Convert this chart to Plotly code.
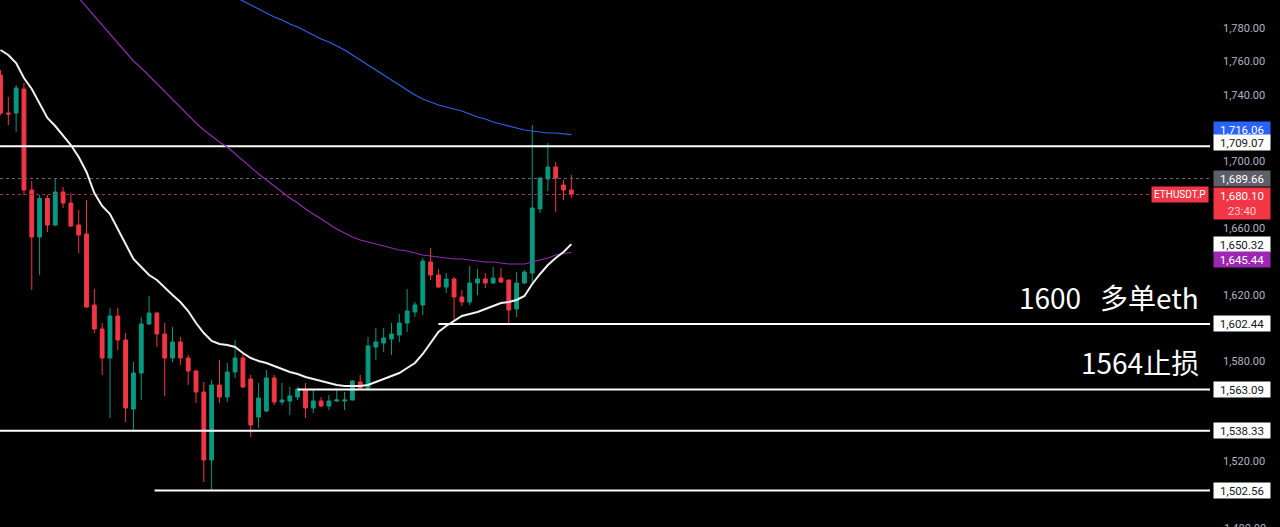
import plotly.graph_objects as go

# ---- data ----
bars = list(range(74))
opens = [1751.8, 1729.0, 1729.0, 1743.4, 1682.8, 1654.6, 1677.8, 1661.8, 1681.6, 1675.0,
         1661.8, 1656.4, 1613.8, 1599.4, 1582.0, 1607.2, 1592.8, 1551.4, 1573.0, 1602.4,
         1609.0, 1596.4, 1582.0, 1591.6, 1582.0, 1574.2, 1561.6, 1520.8, 1565.8, 1558.6,
         1573.6, 1582.0, 1569.4, 1546.6, 1550.2, 1570.0, 1555.6, 1556.2, 1558.6, 1562.8,
         1552.0, 1556.2, 1553.2, 1556.2, 1556.2, 1556.8, 1567.6, 1564.0, 1588.6, 1591.0,
         1593.4, 1595.8, 1603.0, 1609.6, 1613.8, 1639.6, 1631.8, 1624.6, 1629.4, 1618.6,
         1615.6, 1627.0, 1629.4, 1627.0, 1630.0, 1628.8, 1611.4, 1627.0, 1633.0, 1671.4,
         1689.4, 1696.6, 1685.8, 1682.8]
highs = [1754.8, 1738.6, 1745.8, 1747.0, 1688.2, 1679.8, 1679.8, 1689.4, 1684.6, 1681.0,
         1670.8, 1676.8, 1623.4, 1603.0, 1612.0, 1612.0, 1597.0, 1579.6, 1606.6, 1619.2,
         1609.4, 1603.0, 1600.6, 1594.6, 1583.8, 1574.8, 1567.6, 1568.8, 1580.8, 1579.0,
         1592.8, 1585.6, 1571.8, 1567.0, 1574.8, 1571.8, 1567.0, 1564.6, 1564.6, 1567.0,
         1562.8, 1558.6, 1559.8, 1564.0, 1561.6, 1568.8, 1571.8, 1594.6, 1600.0, 1600.0,
         1603.0, 1608.4, 1623.4, 1615.6, 1642.0, 1648.0, 1635.4, 1633.0, 1630.6, 1622.8,
         1637.2, 1635.4, 1633.0, 1636.6, 1636.0, 1628.8, 1633.6, 1634.8, 1721.8, 1690.6,
         1711.0, 1699.6, 1688.8, 1691.8]
lows = [1727.8, 1721.8, 1717.6, 1679.8, 1622.8, 1631.8, 1657.6, 1661.0, 1672.0, 1660.6,
        1645.0, 1612.0, 1597.0, 1571.8, 1546.0, 1586.8, 1543.6, 1537.6, 1556.8, 1602.0,
        1588.6, 1559.2, 1579.6, 1577.8, 1565.8, 1555.0, 1507.6, 1502.6, 1555.0, 1555.6,
        1570.0, 1564.0, 1534.6, 1540.0, 1549.6, 1553.8, 1553.8, 1547.8, 1556.8, 1546.0,
        1549.0, 1552.6, 1550.8, 1555.6, 1550.8, 1556.6, 1562.8, 1563.4, 1580.8, 1585.6,
        1583.8, 1591.6, 1597.6, 1606.6, 1607.8, 1628.8, 1624.0, 1621.0, 1604.8, 1613.2,
        1613.8, 1619.8, 1624.0, 1626.6, 1627.0, 1602.4, 1606.6, 1626.4, 1627.6, 1669.0,
        1682.2, 1669.6, 1676.8, 1678.0]
closes = [1729.0, 1728.4, 1744.0, 1682.8, 1654.6, 1677.8, 1661.8, 1681.6, 1675.0, 1661.2,
          1655.8, 1612.6, 1599.4, 1582.0, 1607.2, 1592.8, 1552.0, 1573.0, 1602.4, 1609.0,
          1596.4, 1582.0, 1591.6, 1582.0, 1574.2, 1561.6, 1520.8, 1565.8, 1558.6, 1573.6,
          1582.0, 1564.6, 1541.8, 1558.0, 1570.0, 1555.6, 1556.8, 1559.2, 1563.4, 1552.0,
          1556.2, 1553.2, 1556.2, 1556.8, 1556.8, 1568.2, 1564.0, 1589.2, 1591.6, 1594.0,
          1596.4, 1603.0, 1610.2, 1613.8, 1640.2, 1631.8, 1624.6, 1629.4, 1618.6, 1615.6,
          1627.0, 1629.4, 1627.0, 1630.0, 1627.6, 1610.8, 1627.0, 1633.6, 1672.0, 1690.0,
          1696.6, 1690.0, 1682.8, 1680.1]

ma_white = [1766.8, 1763.8, 1759.0, 1750.0, 1743.4, 1734.4, 1726.0, 1721.2, 1715.8, 1709.8,
            1702.6, 1693.6, 1681.0, 1673.2, 1668.4, 1659.4, 1649.8, 1641.4, 1636.6, 1631.8,
            1628.8, 1624.0, 1619.8, 1615.6, 1610.2, 1603.0, 1597.0, 1592.2, 1590.4, 1589.8,
            1588.6, 1585.0, 1582.0, 1580.2, 1579.0, 1577.2, 1575.4, 1573.6, 1572.4, 1570.6,
            1569.4, 1568.2, 1567.0, 1565.8, 1565.2, 1565.2, 1565.2, 1565.8, 1567.6, 1569.4,
            1571.2, 1573.0, 1576.0, 1579.0, 1584.4, 1591.0, 1597.6, 1601.2, 1604.2, 1607.2,
            1608.4, 1609.6, 1611.4, 1613.2, 1615.0, 1615.6, 1616.8, 1619.2, 1626.4, 1632.4,
            1637.8, 1642.0, 1645.6, 1650.32]
ma_purple = [1853.8, 1848.4, 1843.0, 1837.0, 1831.6, 1825.6, 1819.6, 1814.2, 1808.8, 1802.8,
             1797.4, 1792.6, 1787.2, 1781.8, 1776.4, 1771.0, 1765.6, 1760.2, 1756.0, 1751.2,
             1747.0, 1742.2, 1737.4, 1732.6, 1727.8, 1723.0, 1718.8, 1715.2, 1711.6, 1708.6,
             1704.4, 1700.2, 1696.0, 1692.4, 1688.8, 1685.2, 1681.6, 1678.0, 1675.0, 1671.4,
             1668.4, 1665.4, 1662.4, 1659.4, 1657.0, 1654.6, 1652.8, 1651.6, 1650.4, 1649.2,
             1648.0, 1646.8, 1646.2, 1645.0, 1643.8, 1643.2, 1642.6, 1642.0, 1641.4, 1641.4,
             1640.8, 1640.2, 1639.6, 1639.6, 1639.0, 1638.4, 1638.4, 1638.4, 1639.6, 1640.8,
             1642.0, 1643.8, 1644.4, 1645.44]
ma_blue = [None] * 28 + [
             1804.0, 1801.0, 1798.6, 1796.2, 1793.8, 1791.4, 1789.0, 1786.6, 1784.8, 1782.4,
             1780.6, 1778.2, 1775.8, 1773.4, 1771.6, 1769.2, 1766.8, 1763.8, 1760.8, 1757.8,
             1754.8, 1751.8, 1748.8, 1745.8, 1742.8, 1739.8, 1737.4, 1735.6, 1733.8, 1732.6,
             1731.4, 1730.2, 1728.4, 1726.6, 1725.4, 1723.6, 1722.4, 1721.2, 1720.0, 1718.8,
             1718.2, 1717.6, 1717.0, 1717.0, 1716.4, 1716.06]

level_prices = [1709.07, 1602.44, 1563.09, 1538.33, 1502.56]
level_starts = [-0.06, 56, 38, -0.06, 19.7]

last_price = 1680.10
mark_price = 1689.66

tick_vals = [1500, 1520, 1540, 1560, 1580, 1600, 1620, 1640, 1660, 1680, 1700, 1720, 1740, 1760, 1780]
tick_text = ["", "1,520.00", "", "", "1,580.00", "", "1,620.00", "", "1,660.00", "",
             "1,700.00", "", "1,740.00", "1,760.00", "1,780.00"]

note_texts = ["1600\u00a0\u00a0\u00a0多单eth", "1564止损"]
note_prices = [1618.5, 1579.5]

X_MIN, X_MAX = -0.064, 154.67
Y_MIN, Y_MAX = 1480.6, 1796.8

GREEN = "#089981"
RED = "#f23645"

fig = go.Figure()

# level lines
for p, s in zip(level_prices, level_starts):
    fig.add_trace(go.Scatter(x=[s, X_MAX], y=[p, p], mode="lines",
                             line=dict(color="#ffffff", width=2), hoverinfo="skip", showlegend=False))

# dotted price lines
fig.add_trace(go.Scatter(x=[X_MIN, X_MAX], y=[mark_price, mark_price], mode="lines",
                         line=dict(color="#6a6d78", width=1, dash="dot"), showlegend=False))
fig.add_trace(go.Scatter(x=[X_MIN, X_MAX], y=[last_price, last_price], mode="lines",
                         line=dict(color="#a8323d", width=1, dash="dot"), showlegend=False))

# moving averages
fig.add_trace(go.Scatter(x=bars, y=ma_blue, mode="lines",
                         line=dict(color="#2f62e8", width=1.2), showlegend=False))
fig.add_trace(go.Scatter(x=bars, y=ma_purple, mode="lines",
                         line=dict(color="#8e2fb0", width=1.2), showlegend=False))

fig.add_trace(go.Candlestick(
    x=bars, open=opens, high=highs, low=lows, close=closes,
    increasing=dict(line=dict(color=GREEN, width=1), fillcolor=GREEN),
    decreasing=dict(line=dict(color=RED, width=1), fillcolor=RED),
    whiskerwidth=0, showlegend=False))

fig.add_trace(go.Scatter(x=bars, y=ma_white, mode="lines",
                         line=dict(color="#f2f2f2", width=2), showlegend=False))

# price tags on the axis (value, background, text colour, vertical nudge in px)
tags = [
    (ma_blue[-1], "#2962ff", "#ffffff", 5),
    (level_prices[0], "#ffffff", "#131722", 4),
    (mark_price, "#5d606b", "#ffffff", 0),
    (ma_white[-1], "#ffffff", "#131722", 0),
    (ma_purple[-1], "#9c27b0", "#ffffff", -7),
]
for p in level_prices[1:]:
    tags.append((p, "#ffffff", "#131722", 0))

annotations = []
for p, bg, fg, dy in tags:
    annotations.append(dict(xref="paper", yref="y", x=1, y=p, xanchor="left", yanchor="middle",
                            xshift=3, yshift=dy, text="{:,.2f}".format(p), showarrow=False,
                            bgcolor=bg, width=54, height=13, align="center", borderpad=1,
                            font=dict(color=fg, size=11.5, family="Roboto")))

annotations.append(dict(xref="paper", yref="y", x=1, y=last_price, xanchor="left", yanchor="top",
                        xshift=3, yshift=8,
                        text="{:,.2f}<br><span style='color:#ffc9cd'>23:40</span>".format(last_price),
                        showarrow=False, bgcolor=RED, width=54, align="center", borderpad=1,
                        font=dict(color="#ffffff", size=11.5, family="Roboto")))
annotations.append(dict(xref="paper", yref="y", x=1, y=last_price, xanchor="right", yanchor="middle",
                        xshift=-1, text="ETHUSDT.P", showarrow=False, bgcolor=RED, borderpad=2,
                        font=dict(color="#ffffff", size=10, family="Roboto")))

# partially visible bottom tick label, as in the reference
annotations.append(dict(xref="paper", yref="paper", x=1, y=0, xanchor="left", yanchor="middle",
                        xshift=12, yshift=-1, text="1,480.00", showarrow=False,
                        font=dict(color="#b2b5be", size=11, family="Roboto")))

for t, p in zip(note_texts, note_prices):
    annotations.append(dict(xref="paper", yref="y", x=1201 / 1210, y=p, xanchor="right",
                            yanchor="middle", text=t, showarrow=False,
                            font=dict(color="#ffffff", size=28, family="Noto Sans CJK SC")))

fig.update_layout(
    width=1280, height=527,
    margin=dict(l=0, r=70, t=0, b=0),
    paper_bgcolor="#000000", plot_bgcolor="#000000",
    showlegend=False,
    annotations=annotations,
    xaxis=dict(range=[X_MIN, X_MAX], visible=False, rangeslider=dict(visible=False),
               showgrid=False, zeroline=False),
    yaxis=dict(range=[Y_MIN, Y_MAX], side="right", showgrid=False, zeroline=False,
               tickmode="array", tickvals=tick_vals, ticktext=tick_text,
               ticks="", ticklabelstandoff=12,
               tickfont=dict(color="#b2b5be", size=11, family="Roboto"),
               showline=False),
)

fig.write_html("out.html")
